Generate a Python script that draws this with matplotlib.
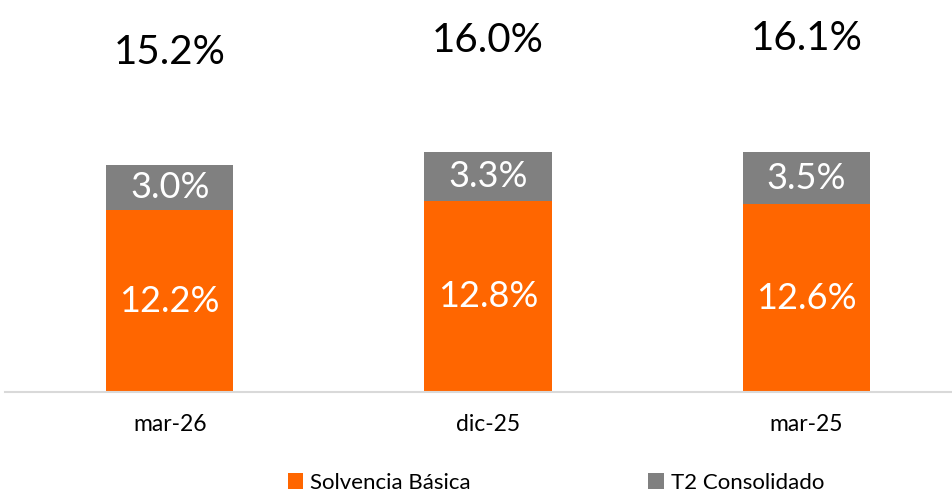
import matplotlib
matplotlib.use("Agg")
import matplotlib.pyplot as plt
import numpy as np

categories = ["mar-26", "dic-25", "mar-25"]
solvencia = [12.2, 12.8, 12.6]
t2 = [3.0, 3.3, 3.5]
totals = [15.2, 16.0, 16.1]

orange = "#FF6600"
grey = "#808080"

plt.rcParams['font.family'] = ['Lato', 'DejaVu Sans']

fig = plt.figure(figsize=(9.53, 4.95), dpi=100)
ax = fig.add_axes([0.005, 103 / 495, 0.995, 392 / 495])

x = np.arange(len(categories))
w = 0.4
b1 = ax.bar(x, solvencia, w, color=orange, label="Solvencia Básica")
b2 = ax.bar(x, t2, w, bottom=solvencia, color=grey, label="T2 Consolidado")

for i in range(len(x)):
    ax.text(x[i], solvencia[i] / 2, f"{solvencia[i]:.1f}%", ha='center', va='center',
            color='white', fontsize=26)
    ax.text(x[i], solvencia[i] + t2[i] / 2, f"{t2[i]:.1f}%", ha='center', va='center',
            color='white', fontsize=26)
    ax.text(x[i], totals[i] + 7.6, f"{totals[i]:.1f}%", ha='center', va='center',
            color='black', fontsize=29)

ax.set_xlim(-0.518, 2.46)
ax.set_ylim(0, 26.3)
ax.set_xticks(x)
ax.set_xticklabels(categories, fontsize=16.5)
ax.tick_params(axis='x', length=0, pad=16)
ax.set_yticks([])
for s in ['top', 'right', 'left']:
    ax.spines[s].set_visible(False)
ax.spines['bottom'].set_color('#d9d9d9')
ax.spines['bottom'].set_linewidth(1.5)

fig.legend(handles=[b1, b2], loc='lower left', bbox_to_anchor=(0.302, 0.004), ncol=2,
           frameon=False, handlelength=0.7, handleheight=0.7, handletextpad=0.3,
           borderpad=0, borderaxespad=0, columnspacing=8.0, prop={'size': 16})

fig.savefig("out.png", dpi=100)
